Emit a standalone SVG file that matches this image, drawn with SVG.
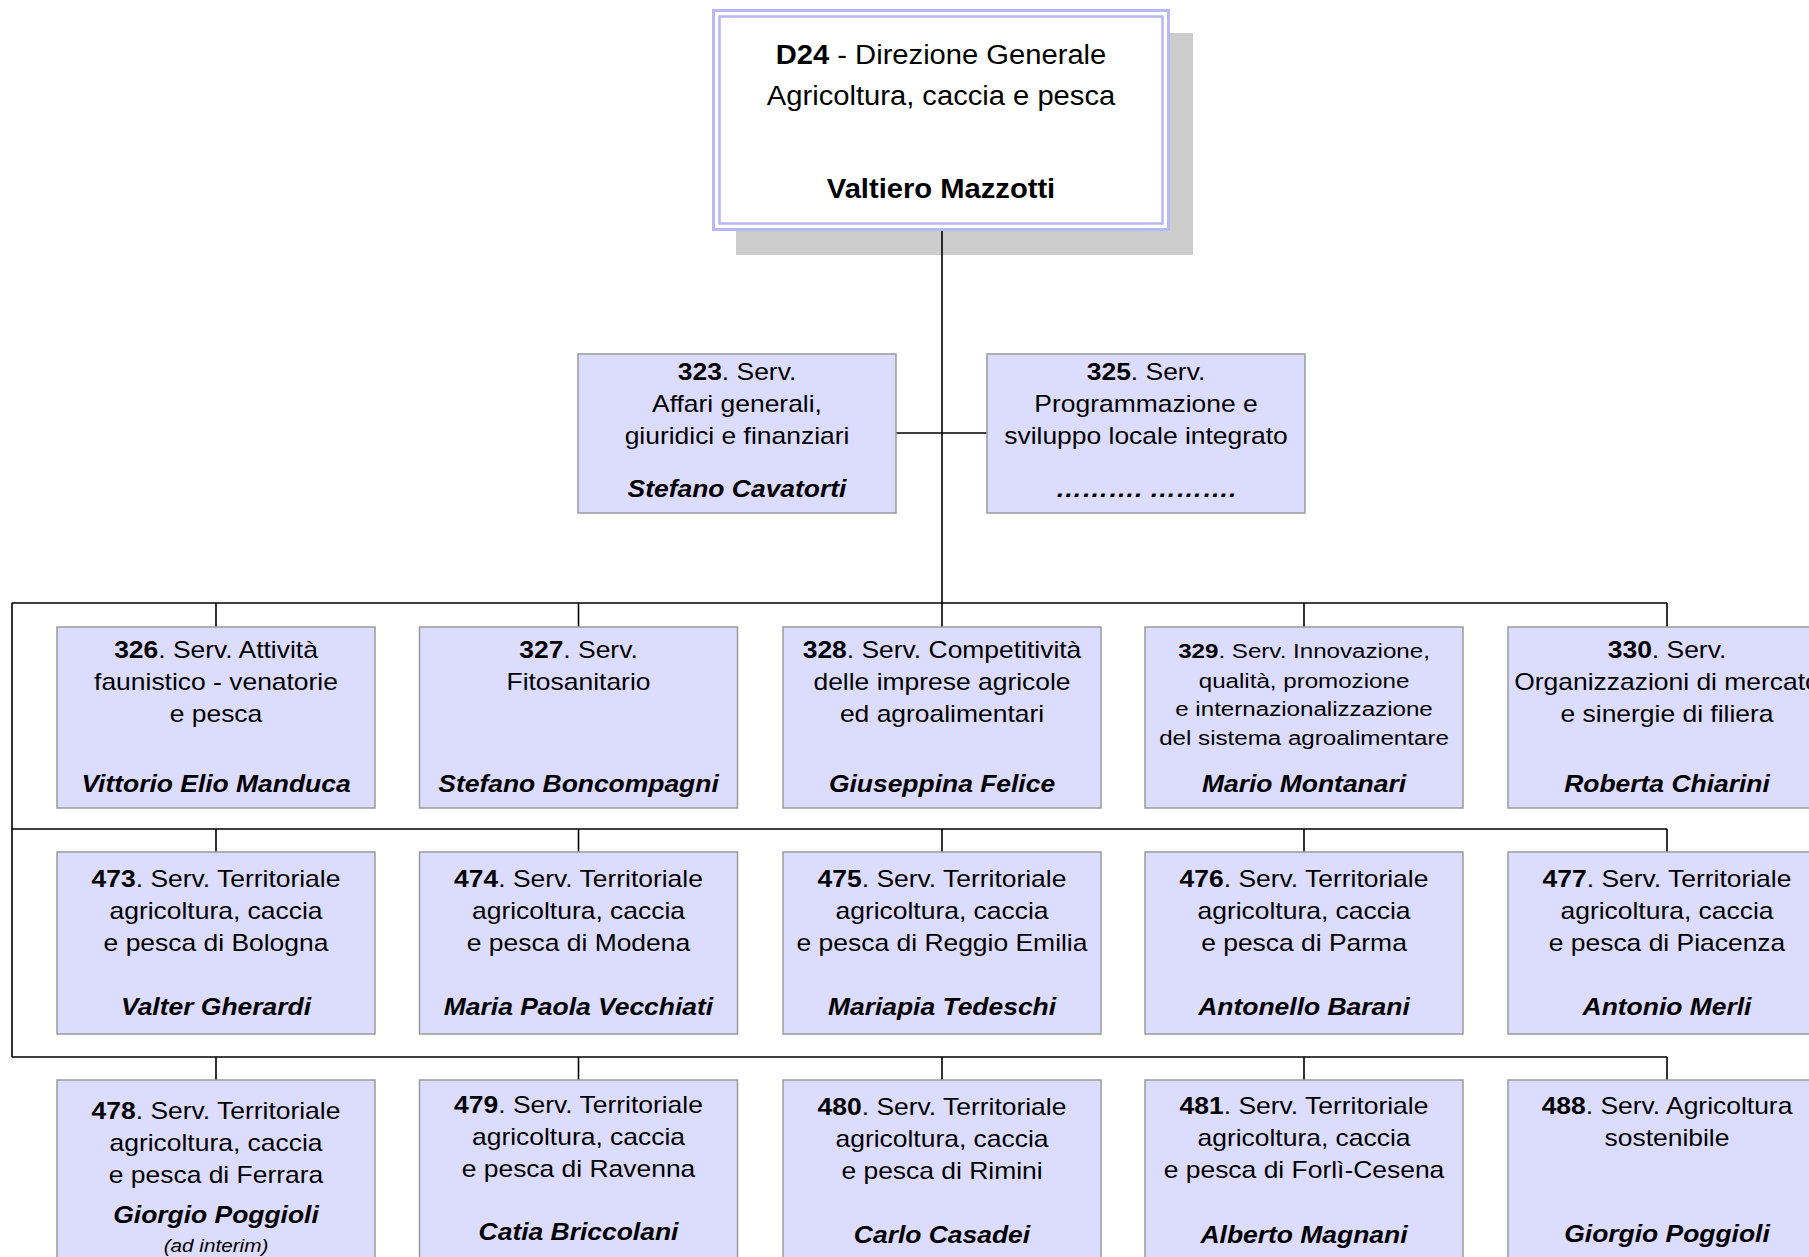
<svg xmlns="http://www.w3.org/2000/svg" width="1809" height="1257" viewBox="0 0 1809 1257">
<style>
.box{fill:#dcdcfe;stroke:#9a9a9a;stroke-width:1.5}
.t{font-family:"Liberation Sans",Arial,sans-serif;font-size:23px;text-anchor:middle;fill:#000}
.tt{font-size:27px}
.sm{font-size:21px}
.b{font-weight:bold}
.n{font-weight:bold;font-style:italic}
.ai{font-style:italic;font-size:18px}
.c{fill:none;stroke:#000;stroke-width:1.6}
</style>
<rect width="1809" height="1257" fill="#fff"/>
<rect id="shadow" x="736" y="33" width="457" height="222" fill="#cccccc"/>
<g id="connectors" class="c">
<path d="M942 230V627"/>
<path d="M896 433H987"/>
<path d="M12 603H1667M12 603V1057M12 829H1667M12 1057H1667"/>
<path d="M216 603V627M578.5 603V627M1304 603V627M1667 603V627"/>
<path d="M216 829V852M578.5 829V852M942 829V852M1304 829V852M1667 829V852"/>
<path d="M216 1057V1080M578.5 1057V1080M942 1057V1080M1304 1057V1080M1667 1057V1080"/>
</g>
<g id="d24">
<rect x="713.5" y="10.5" width="455" height="219" fill="#fff" stroke="#b8b8f6" stroke-width="3"/>
<rect x="719.5" y="16.5" width="443" height="207" fill="none" stroke="#b8b8f6" stroke-width="2.5"/>
<text class="t tt" transform="translate(941 0) scale(1.08 1)"><tspan x="0" y="64"><tspan class="b">D24</tspan> - Direzione Generale</tspan><tspan x="0" y="105">Agricoltura, caccia e pesca</tspan><tspan class="b" x="0" y="198">Valtiero Mazzotti</tspan></text>
</g>
<g id="n323">
<rect class="box" x="578" y="354" width="318" height="159"/>
<text class="t" transform="translate(737 0) scale(1.15 1)"><tspan x="0" y="380"><tspan class="b">323</tspan>. Serv.</tspan><tspan x="0" y="412">Affari generali,</tspan><tspan x="0" y="444">giuridici e finanziari</tspan><tspan class="n" x="0" y="497">Stefano Cavatorti</tspan></text>
</g>
<g id="n325">
<rect class="box" x="987" y="354" width="318" height="159"/>
<text class="t" transform="translate(1146 0) scale(1.15 1)"><tspan x="0" y="380"><tspan class="b">325</tspan>. Serv.</tspan><tspan x="0" y="412">Programmazione e</tspan><tspan x="0" y="444">sviluppo locale integrato</tspan><tspan class="n" x="0" y="497">………. ……….</tspan></text>
</g>
<g id="n326">
<rect class="box" x="57" y="627" width="318" height="181"/>
<text class="t" transform="translate(216 0) scale(1.15 1)"><tspan x="0" y="658"><tspan class="b">326</tspan>. Serv. Attività</tspan><tspan x="0" y="690">faunistico - venatorie</tspan><tspan x="0" y="722">e pesca</tspan><tspan class="n" x="0" y="792">Vittorio Elio Manduca</tspan></text>
</g>
<g id="n327">
<rect class="box" x="419.5" y="627" width="318" height="181"/>
<text class="t" transform="translate(578.5 0) scale(1.15 1)"><tspan x="0" y="658"><tspan class="b">327</tspan>. Serv.</tspan><tspan x="0" y="690">Fitosanitario</tspan><tspan class="n" x="0" y="792">Stefano Boncompagni</tspan></text>
</g>
<g id="n328">
<rect class="box" x="783" y="627" width="318" height="181"/>
<text class="t" transform="translate(942 0) scale(1.15 1)"><tspan x="0" y="658"><tspan class="b">328</tspan>. Serv. Competitività</tspan><tspan x="0" y="690">delle imprese agricole</tspan><tspan x="0" y="722">ed agroalimentari</tspan><tspan class="n" x="0" y="792">Giuseppina Felice</tspan></text>
</g>
<g id="n329">
<rect class="box" x="1145" y="627" width="318" height="181"/>
<text class="t" transform="translate(1304 0) scale(1.15 1)"><tspan x="0" y="658" class="sm"><tspan class="b">329</tspan>. Serv. Innovazione,</tspan><tspan class="sm" x="0" y="688">qualità, promozione</tspan><tspan class="sm" x="0" y="716.5">e internazionalizzazione</tspan><tspan class="sm" x="0" y="745">del sistema agroalimentare</tspan><tspan class="n" x="0" y="792">Mario Montanari</tspan></text>
</g>
<g id="n330">
<rect class="box" x="1508" y="627" width="318" height="181"/>
<text class="t" transform="translate(1667 0) scale(1.15 1)"><tspan x="0" y="658"><tspan class="b">330</tspan>. Serv.</tspan><tspan x="0" y="690">Organizzazioni di mercato</tspan><tspan x="0" y="722">e sinergie di filiera</tspan><tspan class="n" x="0" y="792">Roberta Chiarini</tspan></text>
</g>
<g id="n473">
<rect class="box" x="57" y="852" width="318" height="182"/>
<text class="t" transform="translate(216 0) scale(1.15 1)"><tspan x="0" y="887"><tspan class="b">473</tspan>. Serv. Territoriale</tspan><tspan x="0" y="919">agricoltura, caccia</tspan><tspan x="0" y="951">e pesca di Bologna</tspan><tspan class="n" x="0" y="1015">Valter Gherardi</tspan></text>
</g>
<g id="n474">
<rect class="box" x="419.5" y="852" width="318" height="182"/>
<text class="t" transform="translate(578.5 0) scale(1.15 1)"><tspan x="0" y="887"><tspan class="b">474</tspan>. Serv. Territoriale</tspan><tspan x="0" y="919">agricoltura, caccia</tspan><tspan x="0" y="951">e pesca di Modena</tspan><tspan class="n" x="0" y="1015">Maria Paola Vecchiati</tspan></text>
</g>
<g id="n475">
<rect class="box" x="783" y="852" width="318" height="182"/>
<text class="t" transform="translate(942 0) scale(1.15 1)"><tspan x="0" y="887"><tspan class="b">475</tspan>. Serv. Territoriale</tspan><tspan x="0" y="919">agricoltura, caccia</tspan><tspan x="0" y="951">e pesca di Reggio Emilia</tspan><tspan class="n" x="0" y="1015">Mariapia Tedeschi</tspan></text>
</g>
<g id="n476">
<rect class="box" x="1145" y="852" width="318" height="182"/>
<text class="t" transform="translate(1304 0) scale(1.15 1)"><tspan x="0" y="887"><tspan class="b">476</tspan>. Serv. Territoriale</tspan><tspan x="0" y="919">agricoltura, caccia</tspan><tspan x="0" y="951">e pesca di Parma</tspan><tspan class="n" x="0" y="1015">Antonello Barani</tspan></text>
</g>
<g id="n477">
<rect class="box" x="1508" y="852" width="318" height="182"/>
<text class="t" transform="translate(1667 0) scale(1.15 1)"><tspan x="0" y="887"><tspan class="b">477</tspan>. Serv. Territoriale</tspan><tspan x="0" y="919">agricoltura, caccia</tspan><tspan x="0" y="951">e pesca di Piacenza</tspan><tspan class="n" x="0" y="1015">Antonio Merli</tspan></text>
</g>
<g id="n478">
<rect class="box" x="57" y="1080" width="318" height="190"/>
<text class="t" transform="translate(216 0) scale(1.15 1)"><tspan x="0" y="1119"><tspan class="b">478</tspan>. Serv. Territoriale</tspan><tspan x="0" y="1151">agricoltura, caccia</tspan><tspan x="0" y="1183">e pesca di Ferrara</tspan><tspan class="n" x="0" y="1223">Giorgio Poggioli</tspan><tspan class="ai" x="0" y="1252">(ad interim)</tspan></text>
</g>
<g id="n479">
<rect class="box" x="419.5" y="1080" width="318" height="190"/>
<text class="t" transform="translate(578.5 0) scale(1.15 1)"><tspan x="0" y="1113"><tspan class="b">479</tspan>. Serv. Territoriale</tspan><tspan x="0" y="1145">agricoltura, caccia</tspan><tspan x="0" y="1177">e pesca di Ravenna</tspan><tspan class="n" x="0" y="1240">Catia Briccolani</tspan></text>
</g>
<g id="n480">
<rect class="box" x="783" y="1080" width="318" height="190"/>
<text class="t" transform="translate(942 0) scale(1.15 1)"><tspan x="0" y="1115"><tspan class="b">480</tspan>. Serv. Territoriale</tspan><tspan x="0" y="1147">agricoltura, caccia</tspan><tspan x="0" y="1179">e pesca di Rimini</tspan><tspan class="n" x="0" y="1243">Carlo Casadei</tspan></text>
</g>
<g id="n481">
<rect class="box" x="1145" y="1080" width="318" height="190"/>
<text class="t" transform="translate(1304 0) scale(1.15 1)"><tspan x="0" y="1114"><tspan class="b">481</tspan>. Serv. Territoriale</tspan><tspan x="0" y="1146">agricoltura, caccia</tspan><tspan x="0" y="1178">e pesca di Forlì-Cesena</tspan><tspan class="n" x="0" y="1243">Alberto Magnani</tspan></text>
</g>
<g id="n488">
<rect class="box" x="1508" y="1080" width="318" height="190"/>
<text class="t" transform="translate(1667 0) scale(1.15 1)"><tspan x="0" y="1114"><tspan class="b">488</tspan>. Serv. Agricoltura</tspan><tspan x="0" y="1146">sostenibile</tspan><tspan class="n" x="0" y="1242">Giorgio Poggioli</tspan></text>
</g>
</svg>
